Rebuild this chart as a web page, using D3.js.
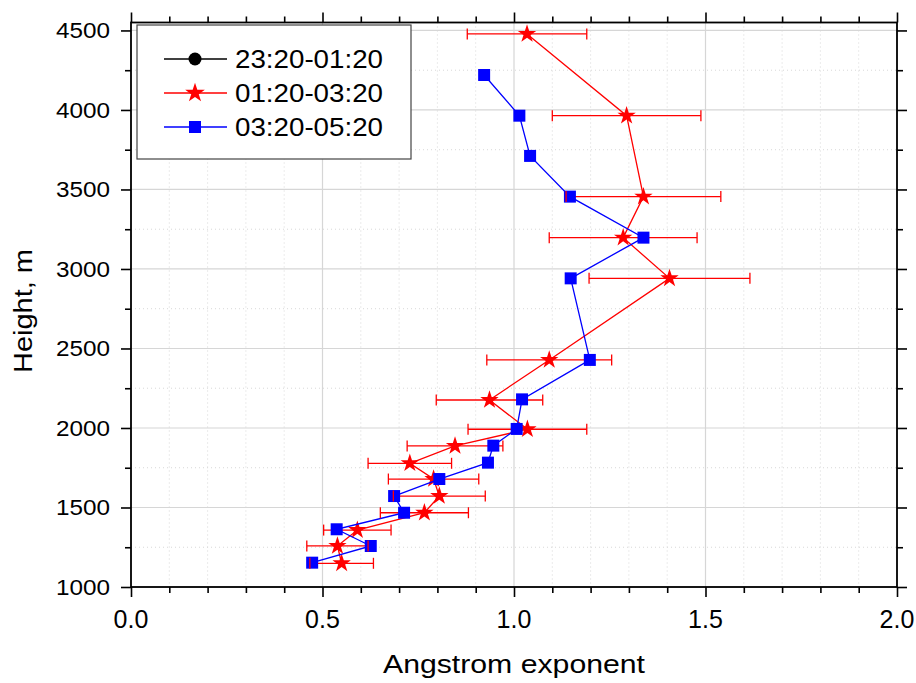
<!DOCTYPE html>
<html>
<head>
<meta charset="utf-8">
<script src="https://cdn.jsdelivr.net/npm/d3@7"></script>
<style>
  html, body { margin: 0; padding: 0; background: #fff; }
  svg { display: block; font-family: "Liberation Sans", Arial, sans-serif; }
</style>
</head>
<body>
<svg id="chart" width="916" height="683"></svg>
<script>
// ---- data ----
const seriesNames = ["23:20-01:20", "01:20-03:20", "03:20-05:20"];

const blackHeight = [];
const blackAE = [];

const redHeight = [4478, 3964, 3455, 3197, 2941, 2428, 2176, 1992, 1887, 1778, 1679, 1572, 1467, 1358, 1258, 1149];
const redAE     = [1.034, 1.294, 1.338, 1.285, 1.406, 1.092, 0.936, 1.035, 0.846, 0.728, 0.790, 0.805, 0.766, 0.591, 0.539, 0.550];
const redErr    = [0.156, 0.194, 0.202, 0.193, 0.210, 0.163, 0.139, 0.155, 0.125, 0.109, 0.118, 0.120, 0.115, 0.088, 0.080, 0.083];

const blueHeight = [4220, 3964, 3711, 3455, 3197, 2941, 2428, 2180, 1994, 1889, 1782, 1679, 1572, 1467, 1363, 1258, 1153];
const blueAE     = [0.922, 1.014, 1.042, 1.146, 1.338, 1.148, 1.198, 1.021, 1.007, 0.946, 0.932, 0.805, 0.687, 0.713, 0.537, 0.626, 0.473];

const xMajorTicks = [0, 0.5, 1.0, 1.5, 2.0];
const xMinorTicks = [0.1, 0.2, 0.3, 0.4, 0.6, 0.7, 0.8, 0.9, 1.1, 1.2, 1.3, 1.4, 1.6, 1.7, 1.8, 1.9];
const yMajorTicks = [1000, 1500, 2000, 2500, 3000, 3500, 4000, 4500];
const yMinorTicks = [1250, 1750, 2250, 2750, 3250, 3750, 4250];

const xTitle = "Angstrom exponent";
const yTitle = "Height, m";

// ---- layout ----
const svg = d3.select("#chart");
const L = 131, R = 897, T = 22.5, B = 587;
const x = d3.scaleLinear().domain([0, 2]).range([L, R]);
const y = d3.scaleLinear().domain([1000, 4550]).range([B, T]);

const red = "#ff0000", blue = "#0000ff";

// grid
const grid = svg.append("g");
grid.selectAll(".gxm").data(xMinorTicks).join("line")
  .attr("x1", d => x(d)).attr("x2", d => x(d)).attr("y1", T).attr("y2", B)
  .attr("stroke", "#d8d8d8").attr("stroke-width", 1).attr("stroke-dasharray", "1,3");
grid.selectAll(".gym").data(yMinorTicks).join("line")
  .attr("y1", d => y(d)).attr("y2", d => y(d)).attr("x1", L).attr("x2", R)
  .attr("stroke", "#d8d8d8").attr("stroke-width", 1).attr("stroke-dasharray", "1,3");
grid.selectAll(".gx").data(xMajorTicks).join("line")
  .attr("x1", d => x(d)).attr("x2", d => x(d)).attr("y1", T).attr("y2", B)
  .attr("stroke", "#d6d6d6").attr("stroke-width", 1.2);
grid.selectAll(".gy").data(yMajorTicks).join("line")
  .attr("y1", d => y(d)).attr("y2", d => y(d)).attr("x1", L).attr("x2", R)
  .attr("stroke", "#d6d6d6").attr("stroke-width", 1.2);

// axes (ticks only)
function addAxis(axisFn, vals, size, transform) {
  const g = svg.append("g").attr("transform", transform)
    .call(axisFn.tickValues(vals).tickSize(size).tickSizeOuter(0).tickFormat(""));
  g.select(".domain").remove();
  g.selectAll("line").attr("stroke", "#000").attr("stroke-width", 1.6);
  g.selectAll("text").remove();
}
addAxis(d3.axisBottom(x), xMajorTicks, 10, `translate(0,${B})`);
addAxis(d3.axisBottom(x), xMinorTicks, 6, `translate(0,${B})`);
addAxis(d3.axisTop(x), xMajorTicks, 10, `translate(0,${T})`);
addAxis(d3.axisTop(x), xMinorTicks, 6, `translate(0,${T})`);
addAxis(d3.axisLeft(y), yMajorTicks, 10, `translate(${L},0)`);
addAxis(d3.axisLeft(y), yMinorTicks, 6, `translate(${L},0)`);
addAxis(d3.axisRight(y), yMajorTicks, 10, `translate(${R},0)`);
addAxis(d3.axisRight(y), yMinorTicks, 6, `translate(${R},0)`);

// frame
svg.append("rect").attr("x", L).attr("y", T).attr("width", R - L).attr("height", B - T)
  .attr("fill", "none").attr("stroke", "#000").attr("stroke-width", 1.8);

// tick labels
svg.append("g").selectAll("text").data(xMajorTicks).join("text")
  .attr("x", d => x(d)).attr("y", 628)
  .attr("text-anchor", "middle").attr("font-size", 25).attr("fill", "#000")
  .text(d => d3.format(".1f")(d));
svg.append("g").selectAll("text").data(yMajorTicks).join("text")
  .attr("x", 110).attr("y", d => y(d) + 7.7)
  .attr("text-anchor", "end").attr("font-size", 21.5).attr("fill", "#000")
  .attr("textLength", 54).attr("lengthAdjust", "spacingAndGlyphs")
  .text(d => d);

// axis titles
svg.append("text").attr("x", 514).attr("y", 673).attr("text-anchor", "middle")
  .attr("font-size", 26).attr("textLength", 262).attr("lengthAdjust", "spacingAndGlyphs")
  .text(xTitle);
svg.append("text").attr("transform", "translate(32,311) rotate(-90)").attr("text-anchor", "middle")
  .attr("font-size", 26).attr("textLength", 124).attr("lengthAdjust", "spacingAndGlyphs")
  .text(yTitle);

// series data
const redData = redHeight.map((h, i) => ({ h, v: redAE[i], e: redErr[i] }));
const blueData = blueHeight.map((h, i) => ({ h, v: blueAE[i] }));
const blackData = blackHeight.map((h, i) => ({ h, v: blackAE[i] }));

const line = d3.line().x(d => x(d.v)).y(d => y(d.h));
const starSym = d3.symbol().type(d3.symbolStar).size(105);
const sqSym = d3.symbol().type(d3.symbolSquare).size(144);
const circSym = d3.symbol().type(d3.symbolCircle).size(133);

// black series (no points in plot)
svg.append("path").datum(blackData).attr("d", line).attr("fill", "none").attr("stroke", "#000");

// red error bar horizontals
svg.append("g").selectAll("line").data(redData).join("line")
  .attr("x1", d => x(d.v - d.e)).attr("x2", d => x(d.v + d.e))
  .attr("y1", d => y(d.h)).attr("y2", d => y(d.h))
  .attr("stroke", red).attr("stroke-width", 1.3);

// red line + stars
svg.append("path").datum(redData).attr("d", line).attr("fill", "none")
  .attr("stroke", red).attr("stroke-width", 1.3);
svg.append("g").selectAll("path").data(redData).join("path")
  .attr("d", starSym).attr("transform", d => `translate(${x(d.v)},${y(d.h)})`)
  .attr("fill", red);

// blue line + squares
svg.append("path").datum(blueData).attr("d", line).attr("fill", "none")
  .attr("stroke", blue).attr("stroke-width", 1.3);
svg.append("g").selectAll("path").data(blueData).join("path")
  .attr("d", sqSym).attr("transform", d => `translate(${x(d.v)},${y(d.h)})`)
  .attr("fill", blue);

// red error caps
const caps = svg.append("g");
caps.selectAll(".capl").data(redData).join("line")
  .attr("x1", d => x(d.v - d.e)).attr("x2", d => x(d.v - d.e))
  .attr("y1", d => y(d.h) - 5.5).attr("y2", d => y(d.h) + 5.5)
  .attr("stroke", red).attr("stroke-width", 1.3);
caps.selectAll(".capr").data(redData).join("line")
  .attr("x1", d => x(d.v + d.e)).attr("x2", d => x(d.v + d.e))
  .attr("y1", d => y(d.h) - 5.5).attr("y2", d => y(d.h) + 5.5)
  .attr("stroke", red).attr("stroke-width", 1.3);

// legend
const leg = svg.append("g");
leg.append("rect").attr("x", 137).attr("y", 25).attr("width", 274).attr("height", 134)
  .attr("fill", "#fff").attr("stroke", "#444").attr("stroke-width", 1.2);
const legItems = [
  { name: seriesNames[0], color: "#000", sym: circSym },
  { name: seriesNames[1], color: red, sym: d3.symbol().type(d3.symbolStar).size(120) },
  { name: seriesNames[2], color: blue, sym: sqSym }
];
const rowY = [59, 93, 127];
legItems.forEach((it, i) => {
  const g = leg.append("g").attr("transform", `translate(0,${rowY[i]})`);
  g.append("line").attr("x1", 164).attr("x2", 227).attr("y1", 0).attr("y2", 0)
    .attr("stroke", it.color).attr("stroke-width", 1.5);
  g.append("path").attr("d", it.sym).attr("transform", "translate(195,0)").attr("fill", it.color);
  g.append("text").attr("x", 235).attr("y", 9).attr("font-size", 25)
    .attr("textLength", 148).attr("lengthAdjust", "spacingAndGlyphs").attr("fill", "#000")
    .text(it.name);
});
</script>
</body>
</html>
